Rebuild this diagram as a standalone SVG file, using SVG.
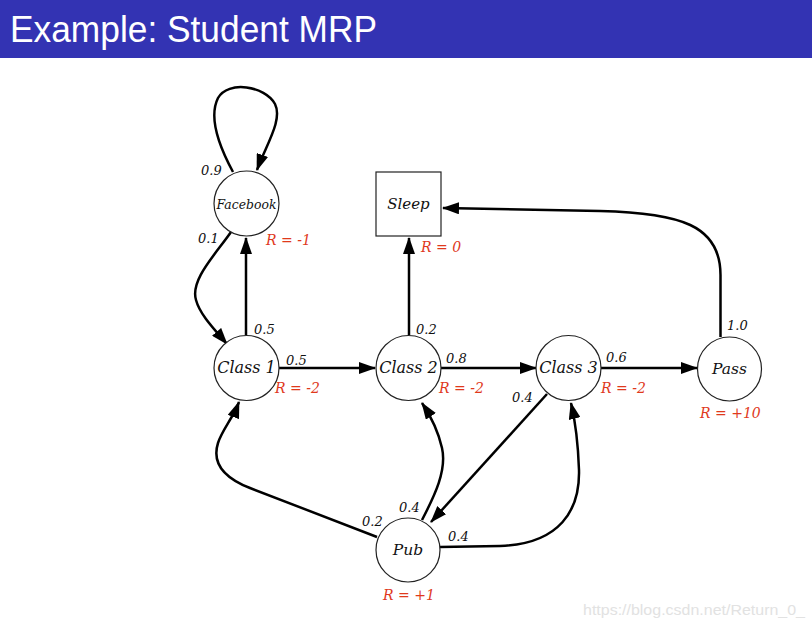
<svg xmlns="http://www.w3.org/2000/svg" width="812" height="627" viewBox="0 0 812 627">
<style>
.node{fill:#fff;stroke:#222;stroke-width:1.2}
.edge{fill:none;stroke:#000;stroke-width:2.5}
.lbl{font-family:"DejaVu Serif",serif;font-style:italic;fill:#111;text-anchor:middle}
.p{font-family:"DejaVu Serif",serif;font-style:italic;font-size:13px;fill:#111}
.r{font-family:"DejaVu Serif",serif;font-style:italic;font-size:14px;fill:#e0391c}
</style>
<defs>
<marker id="ah" markerUnits="userSpaceOnUse" markerWidth="18" markerHeight="12" refX="16" refY="6" orient="auto" viewBox="0 0 18 12">
<path d="M0,0 L17,6 L0,12 z" fill="#000"/>
</marker>
</defs>
<rect x="0" y="0" width="812" height="627" fill="#fff"/>
<rect x="0" y="0" width="812" height="58" fill="#3333b3"/>
<text x="10" y="42" font-family="Liberation Sans, sans-serif" font-size="36" fill="#fff" textLength="367" lengthAdjust="spacingAndGlyphs">Example: Student MRP</text>

<g id="connectors">
<path class="edge" marker-end="url(#ah)" d="M233,172 C220,148 208,118 218,98 C228,80 265,86 275,104 C283,120 266,145 257,170"/>
<path class="edge" marker-end="url(#ah)" d="M231,232 C215,255 190,280 196,300 C200,315 215,330 227,344"/>
<path class="edge" marker-end="url(#ah)" d="M246,335 L246,238"/>
<path class="edge" marker-end="url(#ah)" d="M279,368 L375,368"/>
<path class="edge" marker-end="url(#ah)" d="M409,335 L409,238"/>
<path class="edge" marker-end="url(#ah)" d="M441,368 L536,368"/>
<path class="edge" marker-end="url(#ah)" d="M601,368 L697,368"/>
<path class="edge" marker-end="url(#ah)" d="M720.5,337 L720.5,275 C720.5,225 680,213 600,211 L443,208"/>
<path class="edge" marker-end="url(#ah)" d="M547,394 L431,522"/>
<path class="edge" marker-end="url(#ah)" d="M377,537 L250,488 C222,477 212,462 218,443 C222,430 233,418 239,402"/>
<path class="edge" marker-end="url(#ah)" d="M422,520 C435,495 447,470 442,448 C438,430 430,415 422,403"/>
<path class="edge" marker-end="url(#ah)" d="M440,547 L500,546 C560,544 580,510 579,470 C578,440 575,420 571,403"/>
</g>

<g id="facebook">
<circle class="node" cx="246.5" cy="203.5" r="32.5"/>
<text class="lbl" x="246.5" y="208.5" font-size="12.4">Facebook</text>
<text class="r" x="266" y="245">R = -1</text>
</g>
<g id="sleep">
<rect class="node" x="376" y="172" width="65" height="64"/>
<text class="lbl" x="408.5" y="209" font-size="15">Sleep</text>
<text class="r" x="421" y="252">R = 0</text>
</g>
<g id="class1">
<circle class="node" cx="246.5" cy="368" r="32.5"/>
<text class="lbl" x="246.5" y="373" font-size="16">Class 1</text>
<text class="r" x="275" y="393">R = -2</text>
</g>
<g id="class2">
<circle class="node" cx="408.5" cy="368" r="32.5"/>
<text class="lbl" x="408.5" y="373" font-size="16">Class 2</text>
<text class="r" x="439" y="393">R = -2</text>
</g>
<g id="class3">
<circle class="node" cx="568.5" cy="368" r="32.5"/>
<text class="lbl" x="568.5" y="373" font-size="16">Class 3</text>
<text class="r" x="601" y="393">R = -2</text>
</g>
<g id="pass">
<circle class="node" cx="729.5" cy="369" r="32"/>
<text class="lbl" x="729.5" y="374" font-size="15.5">Pass</text>
<text class="r" x="700" y="418">R = +10</text>
</g>
<g id="pub">
<circle class="node" cx="408" cy="550" r="32"/>
<text class="lbl" x="408" y="555" font-size="15.5">Pub</text>
<text class="r" x="383" y="600">R = +1</text>
</g>

<g id="edge-labels">
<text class="p" x="201" y="175">0.9</text>
<text class="p" x="198" y="243">0.1</text>
<text class="p" x="254" y="334">0.5</text>
<text class="p" x="286" y="365">0.5</text>
<text class="p" x="416" y="334">0.2</text>
<text class="p" x="446" y="363">0.8</text>
<text class="p" x="606" y="362">0.6</text>
<text class="p" x="727" y="330">1.0</text>
<text class="p" x="512" y="402">0.4</text>
<text class="p" x="362" y="526">0.2</text>
<text class="p" x="399" y="512">0.4</text>
<text class="p" x="448" y="541">0.4</text>
</g>
<text x="583" y="615" font-family="Liberation Sans, sans-serif" font-size="15" fill="#e2e2e2" textLength="222" lengthAdjust="spacingAndGlyphs">https://blog.csdn.net/Return_0_</text>
</svg>
